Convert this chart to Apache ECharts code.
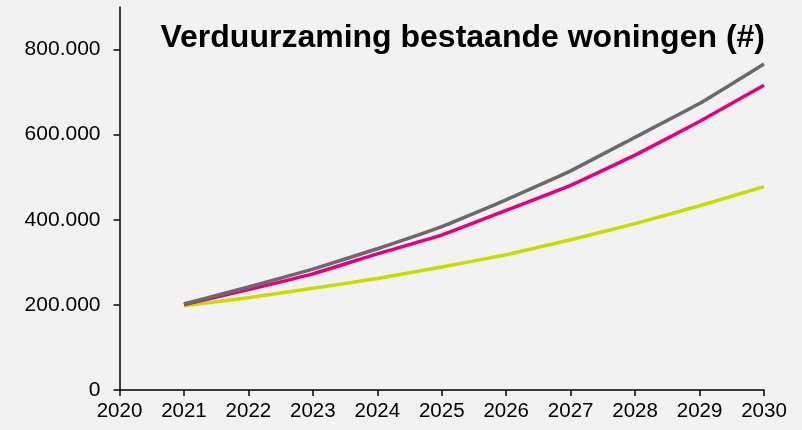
<!DOCTYPE html>
<html>
<head>
<meta charset="utf-8">
<style>
html, body { margin: 0; padding: 0; background: #f2f2f2; }
#chart { width: 802px; height: 430px; }
</style>
<script src="https://cdn.jsdelivr.net/npm/echarts@6/dist/echarts.min.js"></script>
</head>
<body>
<div id="chart"></div>
<script>
// data
var years = [2021, 2022, 2023, 2024, 2025, 2026, 2027, 2028, 2029, 2030]
var greyValues = [202000, 242000, 284000, 332000, 384000, 447000, 515000, 594000, 673000, 766000]
var pinkValues = [201000, 236000, 273000, 320000, 364000, 422000, 481000, 552000, 631000, 716000]
var greenValues = [198000, 217000, 239000, 262000, 289000, 318000, 353000, 391000, 433000, 478000]

function pairs(vals) {
  var out = []
  for (var i = 0; i < years.length; i++) {
    out.push([years[i], vals[i]])
  }
  return out
}

function dots(v) {
  return String(v).replace(/\B(?=(\d{3})+(?!\d))/g, '.')
}

var myChart = echarts.init(document.getElementById('chart'))
myChart.setOption({
  backgroundColor: '#f2f2f2',
  animation: false,
  textStyle: { fontFamily: 'Liberation Sans, Arial, sans-serif' },
  title: {
    text: 'Verduurzaming bestaande woningen (#)',
    right: 32,
    top: 17,
    textStyle: { fontSize: 32, fontWeight: 'bold', color: '#000', fontFamily: 'Liberation Sans, Arial, sans-serif' },
  },
  grid: {
    left: 119.5,
    right: 38,
    top: 7,
    bottom: 40,
  },
  xAxis: {
    type: 'value',
    min: 2020,
    max: 2030,
    interval: 1,
    axisLine: { lineStyle: { color: '#000', width: 1.5 } },
    axisTick: { show: true, length: 6, lineStyle: { color: '#000', width: 1.5 } },
    axisLabel: {
      color: '#000',
      fontSize: 20.5,
      margin: 11,
      formatter: function (v) { return String(v) },
    },
    splitLine: { show: false },
  },
  yAxis: {
    type: 'value',
    min: 0,
    max: 900000,
    interval: 200000,
    axisLine: { show: true, lineStyle: { color: '#000', width: 1.5 } },
    axisTick: { show: true, length: 6, lineStyle: { color: '#000', width: 1.5 } },
    axisLabel: {
      color: '#000',
      fontSize: 21,
      margin: 19,
      showMaxLabel: false,
      formatter: function (v) { return dots(v) },
    },
    splitLine: { show: false },
  },
  series: [
    {
      type: 'line',
      data: pairs(greenValues),
      showSymbol: false,
      smooth: 0.1,
      lineStyle: { color: '#c8dc00', width: 3.5 },
    },
    {
      type: 'line',
      data: pairs(pinkValues),
      showSymbol: false,
      smooth: 0.1,
      lineStyle: { color: '#e5007d', width: 3.5 },
    },
    {
      type: 'line',
      data: pairs(greyValues),
      showSymbol: false,
      smooth: 0.1,
      lineStyle: { color: '#6e676c', width: 3.5 },
    },
  ],
})
</script>
</body>
</html>
